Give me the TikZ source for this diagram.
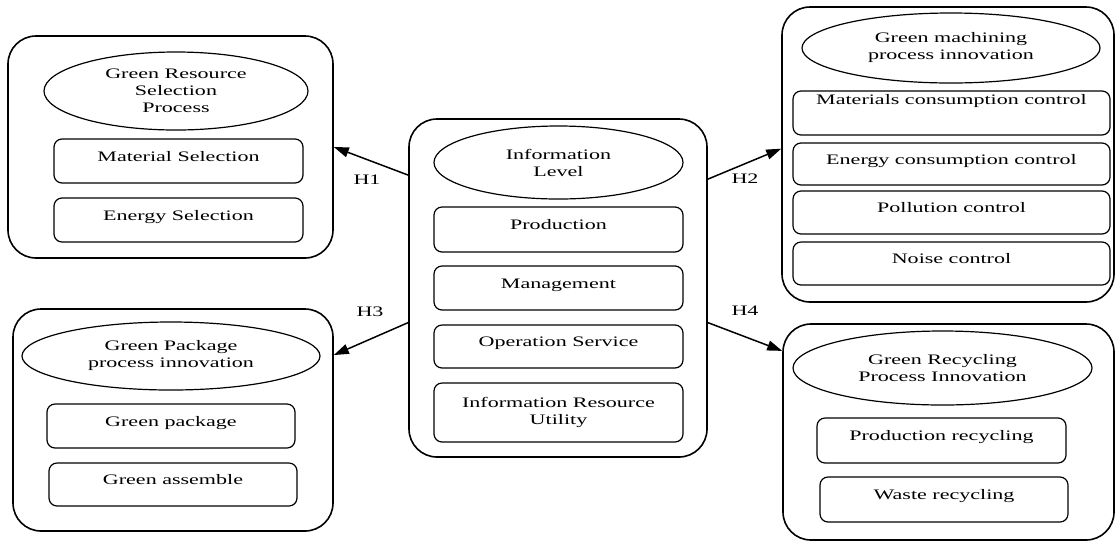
\documentclass[tikz,border=0pt]{standalone}
\usepackage{fontspec}
\setmainfont{Liberation Serif}[FakeStretch=1.52]
\usetikzlibrary{shapes.geometric,arrows.meta}

\begin{document}
\begin{tikzpicture}[x=1pt,y=-1pt,
  every node/.style={font=\fontsize{14.5}{17}\selectfont},
  group/.style={draw, line width=1.6pt, rounded corners=28pt, inner sep=0pt},
  oval/.style={draw, ellipse, line width=1.2pt, inner sep=0pt, align=center},
  item/.style={draw, line width=1.2pt, rounded corners=8pt, inner sep=0pt,
               text height=9.6pt, text depth=9pt},
  item2/.style={draw, line width=1.2pt, rounded corners=8pt, inner sep=0pt, align=center},
  arr/.style={line width=1.5pt, -{Triangle[length=15pt,width=10pt]}},
  hlabel/.style={inner sep=0pt}
]
\useasboundingbox (0,0) rectangle (1115,542);

% Green resource selection process
\node[group, minimum width=325pt, minimum height=222pt] (A) at (170.5,147) {};
\node[oval, minimum width=264pt, minimum height=78pt] (Ae) at (176,91)
  {Green Resource\\Selection\\Process};
\node[item, minimum width=249pt, minimum height=44pt] (A1) at (178.5,161) {Material Selection};
\node[item, minimum width=249pt, minimum height=44pt] (A2) at (178.5,220) {Energy Selection};

% Information level (centre)
\node[group, minimum width=298pt, minimum height=338pt] (C) at (558,288) {};
\node[oval, minimum width=249pt, minimum height=73pt] (Ce) at (558.5,162.5)
  {Information\\Level};
\node[item, minimum width=249pt, minimum height=45pt] (C1) at (558.5,229.5) {Production};
\node[item, minimum width=249pt, minimum height=44pt] (C2) at (558.5,288) {Management};
\node[item, minimum width=249pt, minimum height=43pt] (C3) at (558.5,346.5) {Operation Service};
\node[item2, minimum width=249pt, minimum height=59pt] (C4) at (558.5,412.5)
  {Information Resource\\Utility};

% Green machining process innovation
\node[group, minimum width=332pt, minimum height=295pt] (B) at (948,154.5) {};
\node[oval, minimum width=298pt, minimum height=70pt] (Be) at (951,48)
  {Green machining\\process innovation};
\node[item, minimum width=317pt, minimum height=44pt, text depth=26pt] (B1) at (951.5,113)
  {Materials consumption control};
\node[item, minimum width=317pt, minimum height=42pt] (B2) at (951.5,164) {Energy consumption control};
\node[item, minimum width=317pt, minimum height=43pt] (B3) at (951.5,212.5) {Pollution control};
\node[item, minimum width=317pt, minimum height=43pt] (B4) at (951.5,263.5) {Noise control};

% Green package process innovation
\node[group, minimum width=320pt, minimum height=222pt] (D) at (173,420) {};
\node[oval, minimum width=298pt, minimum height=68pt] (De) at (171,356)
  {Green Package\\process innovation};
\node[item, minimum width=248pt, minimum height=44pt] (D1) at (171,426) {Green package};
\node[item, minimum width=248pt, minimum height=43pt] (D2) at (173,484.5) {Green assemble};

% Green recycling process innovation
\node[group, minimum width=331pt, minimum height=216pt] (E) at (948.5,432) {};
\node[oval, minimum width=299pt, minimum height=74pt] (Ee) at (942.5,368)
  {Green Recycling\\Process Innovation};
\node[item, minimum width=249pt, minimum height=45pt] (E1) at (941.5,440.5) {Production recycling};
\node[item, minimum width=248pt, minimum height=45pt] (E2) at (944,499.5) {Waste recycling};

% hypotheses
\draw[arr] (C.143.6) -- (A.-0.7);
\draw[arr] (C.36.7) -- (B.178.4);
\draw[arr] (C.193.9) -- (D.22.7);
\draw[arr] (C.-13.6) -- (E.154.6);

\node[hlabel] (H1) at (367,180) {H1};
\node[hlabel] (H2) at (745,179) {H2};
\node[hlabel] (H3) at (370,312) {H3};
\node[hlabel] (H4) at (745,311) {H4};
\end{tikzpicture}
\end{document}
